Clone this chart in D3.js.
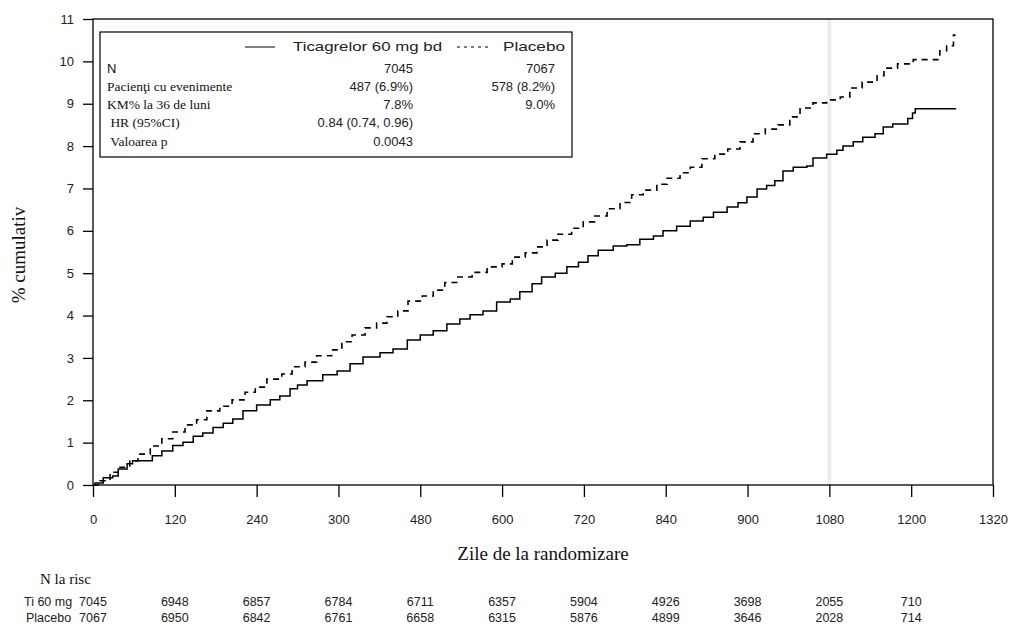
<!DOCTYPE html>
<html><head><meta charset="utf-8">
<script src="https://cdn.jsdelivr.net/npm/d3@7"></script>
<style>body{margin:0;background:#fff}svg{display:block}</style>
</head><body>
<svg id="c" width="1018" height="627"></svg>
<script>
const tiDays = [0,3,15,29,37,50,58,87,101,117,132,147,161,176,191,205,220,240,260,274,289,300,314,337,358,377,396,421,440,461,480,499,519,538,553,572,592,612,626,644,658,678,695,712,726,741,763,783,802,822,836,856,876,895,910,930,946,959,974,988,1000,1012,1027,1047,1056,1076,1091,1100,1115,1129,1147,1159,1173,1195,1202,1206,1266];
const tiVals = [0,0.05,0.17,0.21,0.38,0.50,0.57,0.69,0.80,0.93,1.01,1.15,1.23,1.36,1.46,1.56,1.75,1.89,2.01,2.10,2.27,2.36,2.46,2.60,2.69,2.86,3.02,3.12,3.21,3.42,3.54,3.64,3.80,3.92,4.02,4.11,4.32,4.39,4.56,4.75,4.91,5.00,5.15,5.26,5.41,5.54,5.64,5.67,5.80,5.88,6.00,6.11,6.23,6.32,6.44,6.56,6.66,6.80,6.99,7.07,7.18,7.41,7.50,7.53,7.72,7.81,7.90,8.00,8.10,8.21,8.29,8.45,8.52,8.65,8.78,8.88,8.88];
const plDays = [0,10,25,37,54,66,84,101,117,135,152,167,186,204,223,238,255,277,292,311,328,350,365,380,399,416,431,447,462,483,499,516,535,556,578,600,615,634,651,666,682,702,719,736,754,773,790,807,827,842,861,876,893,912,931,949,968,986,1005,1022,1037,1056,1076,1096,1110,1128,1150,1160,1180,1203,1242,1252,1262,1265];
const plVals = [0,0.10,0.30,0.42,0.57,0.73,0.92,1.09,1.25,1.42,1.54,1.75,1.86,2.01,2.19,2.31,2.50,2.62,2.79,2.90,3.05,3.19,3.38,3.54,3.71,3.82,3.97,4.11,4.34,4.46,4.60,4.78,4.91,5.02,5.15,5.22,5.38,5.48,5.62,5.78,5.92,6.06,6.21,6.35,6.52,6.67,6.85,6.96,7.10,7.24,7.37,7.50,7.70,7.81,7.93,8.10,8.29,8.40,8.50,8.69,8.90,9.02,9.09,9.16,9.37,9.51,9.66,9.84,9.94,10.04,10.25,10.37,10.62,10.62];
const xTicks = [0,120,240,360,480,600,720,840,960,1080,1200,1320];
const xTickLabels = ["0","120","240","300","480","600","720","840","900","1080","1200","1320"];
const yTicks = [0,1,2,3,4,5,6,7,8,9,10,11];
const riskDays = [0,120,240,360,480,600,720,840,960,1080,1200];
const riskTi = [7045,6948,6857,6784,6711,6357,5904,4926,3698,2055,710];
const riskPl = [7067,6950,6842,6761,6658,6315,5876,4899,3646,2028,714];
const legendRows = ["N","Pacienţi cu evenimente","KM% la 36 de luni"," HR (95%CI)"," Valoarea p"];
const legendTi = ["7045","487 (6.9%)","7.8%","0.84 (0.74, 0.96)","0.0043"];
const legendPl = ["7067","578 (8.2%)","9.0%","",""];

const svg = d3.select("#c");
const L=93,R=993,T=19,B=485;
const x = d3.scaleLinear().domain([0,1320]).range([L,R]);
const y = d3.scaleLinear().domain([0,11]).range([B,T]);
const sans = "'Liberation Sans', Arial, sans-serif";
const serif = "'Liberation Serif', 'Times New Roman', serif";

svg.append("line").attr("x1",x(1080)).attr("x2",x(1080)).attr("y1",T).attr("y2",B)
  .attr("stroke","#ececec").attr("stroke-width",4);

const xa = svg.append("g").attr("transform",`translate(0,${B})`)
  .call(d3.axisBottom(x).tickValues(xTicks).tickSize(12).tickPadding(18).tickFormat((d,i)=>xTickLabels[i]));
const ya = svg.append("g").attr("transform",`translate(${L},0)`)
  .call(d3.axisLeft(y).tickValues(yTicks).tickSize(10).tickPadding(9));
[xa,ya].forEach(g=>{
  g.select(".domain").remove();
  g.selectAll("line").attr("stroke","#000").attr("stroke-width",1.3);
  g.selectAll("text").attr("font-family",sans).attr("font-size",13).attr("fill","#222");
});
svg.append("rect").attr("x",L).attr("y",T).attr("width",R-L).attr("height",B-T)
  .attr("fill","none").attr("stroke","#000").attr("stroke-width",1.3);

const line = d3.line().x(d=>x(d[0])).y(d=>y(d[1])).curve(d3.curveStepAfter);
const tiData = tiDays.map((d,i)=>[d,tiVals[i]]);
const plData = plDays.map((d,i)=>[d,plVals[i]]);
svg.append("path").attr("d",line(plData)).attr("fill","none").attr("stroke","#000")
  .attr("stroke-width",1.6).attr("stroke-dasharray","6,5");
svg.append("path").attr("d",line(tiData)).attr("fill","none").attr("stroke","#000")
  .attr("stroke-width",1.5);

svg.append("rect").attr("x",100).attr("y",32).attr("width",472).attr("height",125)
  .attr("fill","#fff").attr("stroke","#000").attr("stroke-width",1.2);
svg.append("line").attr("x1",245).attr("x2",275).attr("y1",47).attr("y2",47).attr("stroke","#000").attr("stroke-width",1);
svg.append("text").attr("x",293).attr("y",51).attr("font-family",sans).attr("font-size",13).attr("fill","#222")
  .attr("textLength",149).attr("lengthAdjust","spacingAndGlyphs").text("Ticagrelor 60 mg bd");
svg.append("line").attr("x1",457).attr("x2",488).attr("y1",47).attr("y2",47).attr("stroke","#000").attr("stroke-width",1).attr("stroke-dasharray","3,4");
svg.append("text").attr("x",503).attr("y",51).attr("font-family",sans).attr("font-size",13).attr("fill","#222")
  .attr("textLength",62).attr("lengthAdjust","spacingAndGlyphs").text("Placebo");
const rowY = [69,87,105,123,142];
legendRows.forEach((t,i)=>{
  svg.append("text").attr("x",107).attr("y",rowY[i]+4).attr("font-family", i===0?sans:serif)
    .attr("font-size", i===0?13:13.5).attr("fill","#111").style("white-space","pre").text(t);
  svg.append("text").attr("x",413).attr("y",rowY[i]+4).attr("text-anchor","end").attr("font-family",sans)
    .attr("font-size",13).attr("fill","#222").text(legendTi[i]);
  if(legendPl[i]) svg.append("text").attr("x",555).attr("y",rowY[i]+4).attr("text-anchor","end").attr("font-family",sans)
    .attr("font-size",13).attr("fill","#222").text(legendPl[i]);
});

svg.append("text").attr("x",543).attr("y",560).attr("text-anchor","middle").attr("font-family",serif)
  .attr("font-size",19).attr("fill","#111").text("Zile de la randomizare");
svg.append("text").attr("transform","translate(25,255) rotate(-90)").attr("text-anchor","middle")
  .attr("font-family",serif).attr("font-size",19).attr("fill","#111").text("% cumulativ");

svg.append("text").attr("x",40).attr("y",584).attr("font-family",serif).attr("font-size",15).attr("fill","#111").text("N la risc");
svg.append("text").attr("x",24).attr("y",606).attr("font-family",sans).attr("font-size",12.5).attr("fill","#222").text("Ti 60 mg");
svg.append("text").attr("x",26).attr("y",622).attr("font-family",sans).attr("font-size",12.5).attr("fill","#222").text("Placebo");
riskDays.forEach((d,i)=>{
  svg.append("text").attr("x",x(d)).attr("y",606).attr("text-anchor","middle").attr("font-family",sans)
    .attr("font-size",12.5).attr("fill","#222").text(riskTi[i]);
  svg.append("text").attr("x",x(d)).attr("y",622).attr("text-anchor","middle").attr("font-family",sans)
    .attr("font-size",12.5).attr("fill","#222").text(riskPl[i]);
});
</script>
</body></html>
